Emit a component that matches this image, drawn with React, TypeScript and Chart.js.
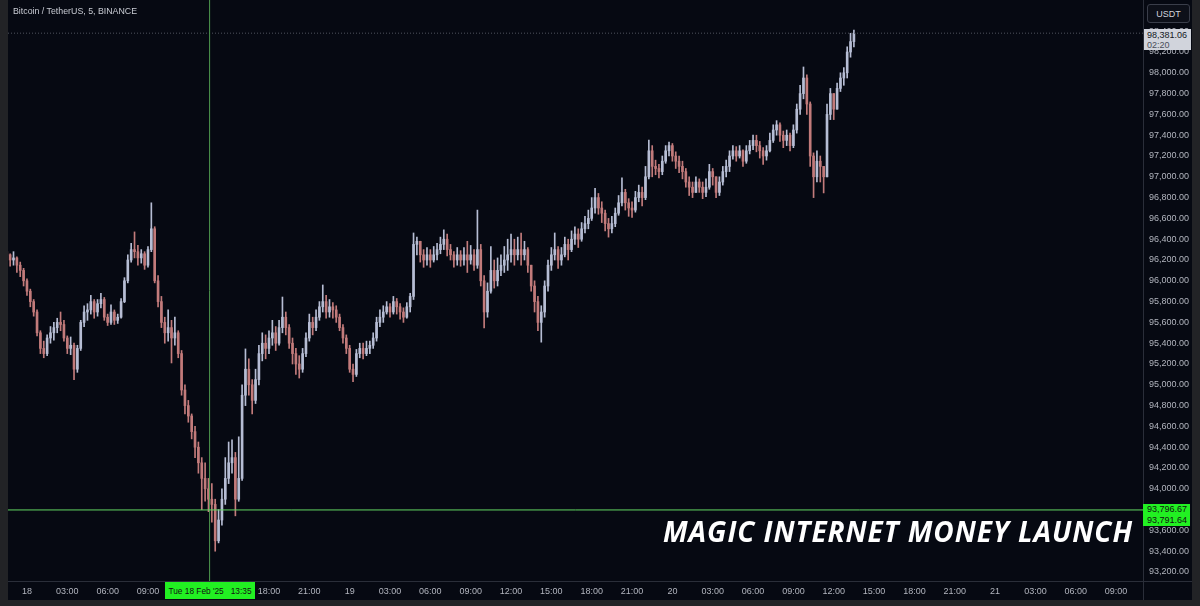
import React, { useEffect, useRef } from 'react';
import { Chart, registerables } from 'chart.js';

Chart.register(...registerables);

// 15-minute candles, BTC/USDT (Binance), hours counted from Tue 18 Feb 2025 00:00
const START_HOUR = -1.5;
const STEP_HOURS = 0.25;
const FIRST_OPEN = 96280;

const closes = [
  96250, 96200, 96220, 96150, 96100, 96000, 95900, 95800, 95700,
  95500, 95350, 95300, 95450, 95500, 95550, 95600, 95580, 95450,
  95350, 95380, 95150, 95350, 95600, 95700, 95720, 95800, 95700,
  95780, 95820, 95650, 95600, 95700, 95620, 95650, 95800, 96000,
  96200, 96300, 96280, 96220, 96260, 96150, 96300, 96500, 96000,
  95800, 95600, 95500, 95550, 95450, 95500, 95300, 94950, 94800,
  94700, 94550, 94400, 94250, 94100, 94000, 93900, 93850, 93500,
  93700, 93900, 94100, 94250, 94300, 93900, 94100, 94900, 95150,
  95000, 94850, 95050, 95300, 95400, 95350, 95450, 95500, 95400,
  95550, 95650, 95550, 95400, 95300, 95200, 95150, 95300, 95450,
  95600, 95550, 95650, 95750, 95800, 95700, 95750, 95720, 95650,
  95550, 95450, 95350, 95150, 95100, 95300, 95350, 95300, 95350,
  95380, 95450, 95600, 95650, 95700, 95750, 95700, 95800, 95750,
  95700, 95650, 95750, 95850, 96350, 96380, 96250, 96200, 96250,
  96200, 96250, 96300, 96350, 96400, 96300, 96250, 96200, 96250,
  96200, 96250, 96200, 96250, 96150, 96300, 96000, 95700, 95900,
  96100, 96000, 96100, 96150, 96200, 96250, 96300, 96250, 96300,
  96250, 96300, 96150, 95950, 95800, 95600, 95700, 95950, 96150,
  96250, 96300, 96200, 96250, 96350, 96300, 96400, 96450, 96400,
  96500, 96550, 96600, 96700, 96800, 96700, 96650, 96550, 96500,
  96550, 96650, 96750, 96850, 96750, 96700, 96680, 96800, 96850,
  96800, 97000, 97250, 97100, 97080, 97050, 97150, 97250, 97300,
  97200, 97150, 97100, 97050, 96950, 96900, 96850, 96950, 96900,
  96850, 96900, 97050, 97000, 96850, 96950, 97050, 97100, 97200,
  97250, 97200, 97250, 97150, 97250, 97300, 97350, 97300, 97250,
  97200, 97250, 97350, 97450, 97500, 97400, 97350, 97400, 97300,
  97450, 97650, 97800, 97950, 97700, 97200, 97000, 97150, 97100,
  97000, 97600, 97800, 97650, 97850, 97950, 98000, 98200, 98300, 98381.06,
];

const highs = [
  96300, 96260, 96280, 96230, 96180, 96120, 96020, 95920, 95820,
  95720, 95520, 95420, 95480, 95560, 95600, 95640, 95700, 95620,
  95470, 95460, 95400, 95380, 95620, 95760, 95780, 95860, 95820,
  95820, 95880, 95840, 95680, 95770, 95720, 95680, 95830, 96030,
  96250, 96360, 96470, 96340, 96300, 96280, 96330, 96750, 96520,
  96050, 95850, 95650, 95720, 95620, 95650, 95520, 95330, 95000,
  94850, 94720, 94600, 94450, 94300, 94250, 94100, 94050, 93900,
  93800, 94000, 94300, 94450, 94470, 94350, 94500, 95000, 95345,
  95250, 95050, 95150, 95380, 95500, 95480, 95520, 95620, 95560,
  95620, 95844, 95700, 95580, 95450, 95350, 95280, 95350, 95500,
  95680, 95650, 95720, 95800, 95960, 95860, 95820, 95790, 95760,
  95680, 95580, 95480, 95380, 95200, 95340, 95400, 95400, 95420,
  95420, 95500, 95650, 95720, 95760, 95800, 95780, 95850, 95830,
  95780, 95740, 95790, 95880, 96460, 96420, 96380, 96300, 96320,
  96300, 96330, 96360, 96420, 96490, 96450, 96350, 96280, 96320,
  96290, 96320, 96380, 96340, 96300, 96680, 96350, 96050, 95980,
  96330, 96200, 96220, 96250, 96330, 96400, 96450, 96400, 96420,
  96460, 96380, 96320, 96150, 96000, 95850, 95760, 96000, 96200,
  96320, 96460, 96330, 96320, 96420, 96400, 96480, 96520, 96500,
  96560, 96620, 96680, 96800, 96890, 96840, 96760, 96680, 96600,
  96620, 96700, 96820, 96990, 96880, 96790, 96760, 96860, 96920,
  96900, 97100, 97354, 97300, 97160, 97120, 97200, 97300, 97335,
  97320, 97240, 97200, 97150, 97080, 97000, 96950, 97000, 96980,
  96950, 96980, 97120, 97080, 97000, 97000, 97100, 97160, 97250,
  97300, 97290, 97300, 97260, 97300, 97350, 97400, 97400, 97340,
  97280, 97300, 97420, 97500, 97540, 97520, 97440, 97450, 97420,
  97500, 97700, 97880, 98056, 97980, 97720, 97230, 97250, 97200,
  97100, 97700, 97850, 97800, 97900, 98000, 98050, 98250, 98380, 98410,
];

const lows = [
  96180, 96140, 96150, 96080, 96040, 95950, 95860, 95750, 95660,
  95470, 95300, 95260, 95280, 95400, 95430, 95500, 95520, 95420,
  95300, 95290, 95050, 95120, 95330, 95560, 95620, 95680, 95640,
  95660, 95740, 95620, 95570, 95580, 95580, 95590, 95640, 95790,
  95980, 96180, 96220, 96150, 96170, 96110, 96130, 96280, 95980,
  95750, 95550, 95400, 95420, 95210, 95380, 95260, 94900, 94720,
  94640, 94480, 94300, 94150, 93800, 93880, 93780, 93680, 93400,
  93480, 93650, 93850, 94050, 94150, 93740, 93880, 94080, 94800,
  94900, 94720, 94820, 95000, 95230, 95250, 95300, 95380, 95330,
  95380, 95500, 95480, 95350, 95200, 95100, 95065, 95120, 95270,
  95420, 95480, 95520, 95620, 95700, 95640, 95650, 95640, 95600,
  95520, 95400, 95300, 95120, 95030, 95080, 95260, 95250, 95280,
  95300, 95350, 95420, 95560, 95600, 95680, 95650, 95680, 95680,
  95630, 95600, 95640, 95700, 95820, 96250, 96180, 96130, 96150,
  96130, 96180, 96200, 96260, 96300, 96240, 96200, 96130, 96150,
  96140, 96150, 96080, 96160, 96100, 96120, 95950, 95546, 95650,
  95880, 95930, 95950, 96050, 96080, 96100, 96180, 96150, 96200,
  96150, 96200, 96080, 95900, 95700, 95520, 95410, 95650, 95900,
  96100, 96200, 96120, 96150, 96230, 96200, 96280, 96350, 96320,
  96380, 96460, 96500, 96580, 96650, 96640, 96560, 96480, 96420,
  96460, 96520, 96630, 96720, 96680, 96620, 96610, 96660, 96760,
  96720, 96780, 96980, 97000, 97020, 96990, 97020, 97130, 97200,
  97150, 97080, 97040, 96980, 96900, 96820, 96800, 96850, 96850,
  96790, 96810, 96880, 96920, 96800, 96820, 96920, 97000, 97050,
  97170, 97150, 97180, 97100, 97130, 97220, 97260, 97240, 97180,
  97120, 97160, 97240, 97330, 97400, 97340, 97280, 97300, 97250,
  97280, 97420, 97600, 97750, 97600, 97100, 96800, 96950, 96950,
  96845, 97000, 97550, 97550, 97650, 97820, 97880, 97950, 98150, 98250,
];

const xTickHours = [0, 3, 6, 9, 12, 15, 18, 21, 24, 27, 30, 33, 36, 39, 42, 45, 48, 51, 54, 57, 60, 63, 66, 69, 72, 75, 78, 81];
const xTickLabels = ['18', '03:00', '06:00', '09:00', '12:00', '15:00', '18:00', '21:00', '19', '03:00', '06:00', '09:00', '12:00', '15:00', '18:00', '21:00', '20', '03:00', '06:00', '09:00', '12:00', '15:00', '18:00', '21:00', '21', '03:00', '06:00', '09:00'];
const yTickValues = [93200, 93400, 93600, 93800, 94000, 94200, 94400, 94600, 94800, 95000, 95200, 95400, 95600, 95800, 96000, 96200, 96400, 96600, 96800, 97000, 97200, 97400, 97600, 97800, 98000, 98200, 98400, 98600];

const LAST_PRICE = 98381.06;
const LINE_PRICE = 93796.67;
const LINE_PRICE_2 = 93791.64;
const CROSS_HOUR = 13 + 35 / 60;
const X_MIN = -1.41;
const X_MAX = 83.0;
const Y_MIN = 93113.5;
const Y_MAX = 98700;

const UP = '#b6bdd4';
const DOWN = '#c27b7b';
const AXIS_TEXT = '#b2b5be';
const GREEN = '#22f022';
const FONT = '"Liberation Sans", Arial, sans-serif';

function fmt2(v: number) {
  return v.toLocaleString('en-US', { minimumFractionDigits: 2, maximumFractionDigits: 2 });
}

export default function App() {
  const ref = useRef<HTMLCanvasElement | null>(null);

  useEffect(() => {
    if (!ref.current) return;
    const opens = closes.map((_, i) => (i === 0 ? FIRST_OPEN : closes[i - 1]));
    const times = closes.map((_, i) => START_HOUR + i * STEP_HOURS);
    const colors = closes.map((c, i) => (c >= opens[i] ? UP : DOWN));
    const wicks = times.map((t, i) => ({ x: t, y: [lows[i], highs[i]] }));
    const bodies = times.map((t, i) => ({ x: t, y: [Math.min(opens[i], closes[i]), Math.max(opens[i], closes[i])] }));

    const chart = new Chart(ref.current, {
      type: 'bar',
      data: {
        datasets: [
          { type: 'line', data: [{ x: X_MIN, y: LINE_PRICE }, { x: X_MAX, y: LINE_PRICE }], borderColor: '#62d862', borderWidth: 1, pointRadius: 0 } as any,
          { type: 'line', data: [{ x: CROSS_HOUR, y: Y_MIN }, { x: CROSS_HOUR, y: Y_MAX }], borderColor: '#4f9a4f', borderWidth: 1, pointRadius: 0 } as any,
          { type: 'line', data: [{ x: X_MIN, y: LAST_PRICE }, { x: X_MAX, y: LAST_PRICE }], borderColor: '#50545f', borderWidth: 1, borderDash: [1, 2], pointRadius: 0 } as any,
          { type: 'bar', data: wicks, backgroundColor: colors, barThickness: 1, grouped: false } as any,
          { type: 'bar', data: bodies, backgroundColor: colors, barThickness: 2, grouped: false, minBarLength: 1 } as any,
        ],
      },
      options: {
        responsive: false,
        animation: false,
        devicePixelRatio: 1,
        layout: { padding: { left: 8, top: 0, right: 8, bottom: 6 } },
        plugins: { legend: { display: false }, tooltip: { enabled: false } },
        scales: {
          x: {
            type: 'linear',
            min: X_MIN,
            max: X_MAX,
            offset: false,
            grid: { display: false, drawTicks: false },
            border: { display: true, color: '#2a2e39' },
            ticks: {
              color: AXIS_TEXT,
              font: { size: 9, family: FONT },
              padding: 5,
              maxRotation: 0,
              autoSkip: false,
              callback: (v: any) => {
                const idx = xTickHours.indexOf(Number(v));
                return idx >= 0 ? xTickLabels[idx] : '';
              },
            },
            afterBuildTicks: (s: any) => { s.ticks = xTickHours.map((v) => ({ value: v })); },
            afterFit: (s: any) => { s.height = 19; s.paddingLeft = 0; s.paddingRight = 0; },
          },
          y: {
            type: 'linear',
            position: 'right',
            min: Y_MIN,
            max: Y_MAX,
            grid: { display: false, drawTicks: false },
            border: { display: true, color: '#2a2e39' },
            ticks: {
              color: AXIS_TEXT,
              font: { size: 9, family: FONT },
              padding: 6,
              callback: (v: any) => fmt2(Number(v)),
            },
            afterBuildTicks: (s: any) => { s.ticks = yTickValues.map((v) => ({ value: v })); },
            afterFit: (s: any) => { s.width = 49; s.paddingTop = 0; s.paddingBottom = 0; },
          },
        },
      } as any,
    });
    return () => chart.destroy();
  }, []);

  const abs = (o: React.CSSProperties): React.CSSProperties => ({ position: 'absolute', ...o });

  return (
    <div style={{ position: 'fixed', left: 0, top: 0, width: 1200, height: 606, background: '#222326', overflow: 'hidden', fontFamily: FONT }}>
      <div style={abs({ left: 8, top: 0, width: 1184, height: 600, background: '#060912' })} />
      <canvas ref={ref} width={1200} height={606} style={abs({ left: 0, top: 0, width: 1200, height: 606 })} />
      <div style={abs({ left: 1143, top: 581, width: 1, height: 19, background: '#2a2e39' })} />
      <div style={abs({ left: 1143, top: 581, width: 49, height: 1, background: '#2a2e39' })} />
      <div style={abs({ left: 13, top: 6, fontSize: 8.8, color: '#c9ccd4', whiteSpace: 'nowrap' })}>Bitcoin / TetherUS, 5, BINANCE</div>
      <div style={abs({ left: 1147, top: 4, width: 41, height: 17, border: '1px solid #3a3e4a', borderRadius: 3, background: '#0d1019', color: '#d1d4dc', fontSize: 9, display: 'flex', alignItems: 'center', justifyContent: 'center' })}>USDT</div>
      <div style={abs({ left: 1144, top: 29, width: 47, height: 21, background: '#d1d4dc', color: '#131722', fontSize: 9, lineHeight: '10px', paddingLeft: 3, boxSizing: 'border-box', paddingTop: 1 })}>
        <div>98,381.06</div>
        <div style={{ color: '#4a4e59' }}>02:20</div>
      </div>
      <div style={abs({ left: 1143, top: 504, width: 47, height: 22, background: GREEN, color: '#111', fontSize: 9, lineHeight: '11px', paddingLeft: 4, boxSizing: 'border-box' })}>
        <div>{fmt2(LINE_PRICE)}</div>
        <div>{fmt2(LINE_PRICE_2)}</div>
      </div>
      <div style={abs({ left: 165, top: 582, width: 90, height: 17, background: GREEN, color: '#111', fontSize: 8.3, display: 'flex', alignItems: 'center', justifyContent: 'center', whiteSpace: 'nowrap' })}>
        <span>Tue 18 Feb '25</span><span style={{ marginLeft: 7 }}>13:35</span>
      </div>
      <div style={abs({ left: 663, top: 512, fontSize: 28, fontWeight: 700, fontStyle: 'italic', color: '#ffffff', fontFamily: '"Open Sans", sans-serif', whiteSpace: 'nowrap', lineHeight: '38px', letterSpacing: '0.95px' })}>MAGIC INTERNET MONEY LAUNCH</div>
    </div>
  );
}
